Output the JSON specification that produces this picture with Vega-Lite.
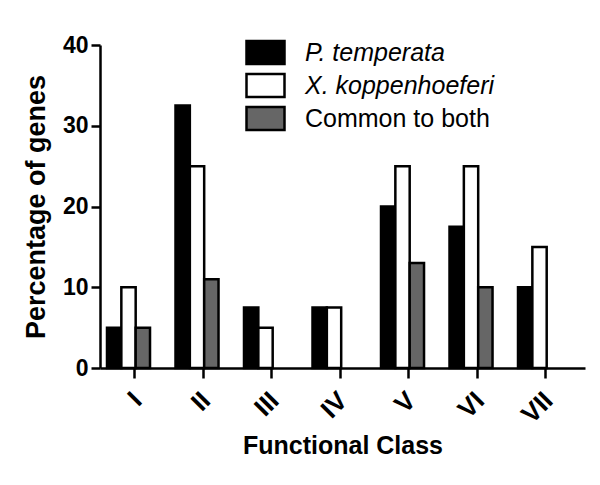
{
  "$schema": "https://vega.github.io/schema/vega-lite/v6.json",
  "width": 485,
  "height": 323,
  "autosize": "none",
  "padding": {"left": 100, "top": 45, "right": 15, "bottom": 117},
  "config": {
    "view": {"stroke": null},
    "font": "Liberation Sans",
    "axis": {"grid": false}
  },
  "data": {
    "values": [
      {"cls": "I", "series": "P. temperata", "pct": 5},
      {"cls": "I", "series": "X. koppenhoeferi", "pct": 10},
      {"cls": "I", "series": "Common to both", "pct": 5},
      {"cls": "II", "series": "P. temperata", "pct": 32.5},
      {"cls": "II", "series": "X. koppenhoeferi", "pct": 25},
      {"cls": "II", "series": "Common to both", "pct": 11},
      {"cls": "III", "series": "P. temperata", "pct": 7.5},
      {"cls": "III", "series": "X. koppenhoeferi", "pct": 5},
      {"cls": "III", "series": "Common to both", "pct": 0},
      {"cls": "IV", "series": "P. temperata", "pct": 7.5},
      {"cls": "IV", "series": "X. koppenhoeferi", "pct": 7.5},
      {"cls": "IV", "series": "Common to both", "pct": 0},
      {"cls": "V", "series": "P. temperata", "pct": 20},
      {"cls": "V", "series": "X. koppenhoeferi", "pct": 25},
      {"cls": "V", "series": "Common to both", "pct": 13},
      {"cls": "VI", "series": "P. temperata", "pct": 17.5},
      {"cls": "VI", "series": "X. koppenhoeferi", "pct": 25},
      {"cls": "VI", "series": "Common to both", "pct": 10},
      {"cls": "VII", "series": "P. temperata", "pct": 10},
      {"cls": "VII", "series": "X. koppenhoeferi", "pct": 15},
      {"cls": "VII", "series": "Common to both", "pct": 0}
    ]
  },
  "mark": {"type": "bar", "stroke": "black"},
  "encoding": {
    "x": {
      "field": "cls",
      "type": "nominal",
      "sort": ["I", "II", "III", "IV", "V", "VI", "VII"],
      "scale": {"paddingInner": 0.372, "paddingOuter": 0.226, "align": 0.226},
      "axis": {
        "title": "Functional Class",
        "titleFontSize": 25,
        "titleFontWeight": "bold",
        "titleColor": "black",
        "titlePadding": 6,
        "labelAngle": -45,
        "labelFontSize": 26,
        "labelFontWeight": "bold",
        "labelColor": "black",
        "labelPadding": 9,
        "tickSize": 10,
        "tickWidth": 2.5,
        "tickColor": "black",
        "domainColor": "black",
        "domainWidth": 2.5,
        "bandPosition": 0.65
      }
    },
    "xOffset": {
      "field": "series",
      "sort": ["P. temperata", "X. koppenhoeferi", "Common to both"],
      "scale": {"paddingInner": 0, "paddingOuter": 0}
    },
    "y": {
      "field": "pct",
      "type": "quantitative",
      "scale": {"domain": [0, 40]},
      "axis": {
        "title": "Percentage of genes",
        "titleFontSize": 27,
        "titleFontWeight": "bold",
        "titleColor": "black",
        "titlePadding": 12,
        "values": [0, 10, 20, 30, 40],
        "labelFontSize": 23,
        "labelFontWeight": "bold",
        "labelColor": "black",
        "labelPadding": 3,
        "tickSize": 9,
        "tickWidth": 2.5,
        "tickColor": "black",
        "domainColor": "black",
        "domainWidth": 2.5
      }
    },
    "strokeWidth": {
      "condition": {"test": "datum.pct == 0", "value": 0},
      "value": 2.5
    },
    "fill": {
      "field": "series",
      "type": "nominal",
      "scale": {
        "domain": ["P. temperata", "X. koppenhoeferi", "Common to both"],
        "range": ["#000000", "#ffffff", "#666666"]
      },
      "legend": {
        "title": null,
        "orient": "none",
        "legendX": 153,
        "legendY": -5,
        "padding": 0,
        "symbolType": "M-1.9,-1.15H1.9V1.15H-1.9Z",
        "symbolSize": 400,
        "symbolStrokeColor": "black",
        "symbolStrokeWidth": 2.5,
        "labelFontSize": 25,
        "labelColor": "black",
        "labelOffset": 27,
        "rowPadding": 0,
        "labelLimit": 400,
        "encode": {
          "labels": {
            "update": {
              "fontStyle": {"signal": "datum.label == 'Common to both' ? 'normal' : 'italic'"}
            }
          }
        }
      }
    }
  }
}
